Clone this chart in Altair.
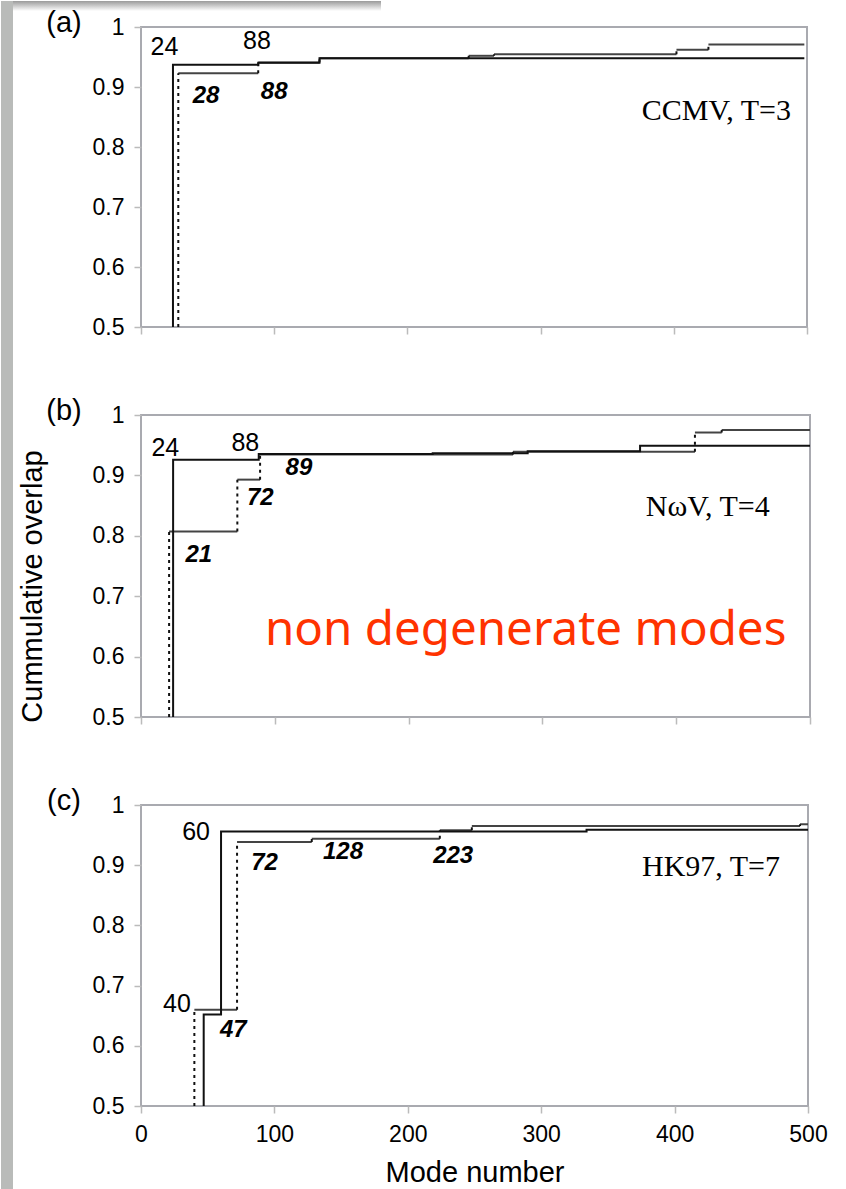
import altair as alt
import pandas as pd

# ---------------- data ----------------
X_TICKS = [0, 100, 200, 300, 400, 500]
Y_TICKS = [0.5, 0.6, 0.7, 0.8, 0.9, 1.0]

# panel (a) CCMV
A_SOLID_X = [24, 88, 134, 498]
A_SOLID_Y = [0.937, 0.9406, 0.948, 0.948]
A_DOT_X = [28, 88, 134, 246, 265, 402, 426, 498]
A_DOT_Y = [0.923, 0.941, 0.948, 0.952, 0.9545, 0.962, 0.971, 0.971]
A_LAB_TEXT = ["24", "88"]
A_LAB_X = [17.6, 87]
A_LAB_Y = [0.967, 0.976]
A_BLAB_TEXT = ["28", "88"]
A_BLAB_X = [48.8, 100]
A_BLAB_Y = [0.885, 0.892]
A_NAME = "CCMV, T=3"
A_NAME_X = 432
A_NAME_Y = 0.86

# panel (b) NωV
B_SOLID_X = [24, 88, 218, 289, 373, 500]
B_SOLID_Y = [0.926, 0.9355, 0.9365, 0.940, 0.949, 0.949]
B_DOT_X = [21, 72, 89, 278, 414, 434, 500]
B_DOT_Y = [0.807, 0.893, 0.9345, 0.939, 0.971, 0.975, 0.975]
B_LAB_TEXT = ["24", "88"]
B_LAB_X = [18.2, 78]
B_LAB_Y = [0.946, 0.954]
B_BLAB_TEXT = ["89", "72", "21"]
B_BLAB_X = [118, 89.2, 43.2]
B_BLAB_Y = [0.913, 0.863, 0.768]
B_NAME = "NωV, T=4"
B_NAME_X = 423.6
B_NAME_Y = 0.848
NOTE_TEXT = "non degenerate modes"
NOTE_X = 287.5
NOTE_Y = 0.620

# panel (c) HK97
C_SOLID_X = [47, 60, 334, 500]
C_SOLID_Y = [0.652, 0.956, 0.959, 0.959]
C_DOT_X = [40, 72, 128, 224, 248, 494, 500]
C_DOT_Y = [0.660, 0.9385, 0.944, 0.958, 0.965, 0.968, 0.968]
C_LAB_TEXT = ["60", "40"]
C_LAB_X = [41.3, 27]
C_LAB_Y = [0.955, 0.670]
C_BLAB_TEXT = ["47", "72", "128", "223"]
C_BLAB_X = [69.2, 92.6, 151.4, 234]
C_BLAB_Y = [0.627, 0.904, 0.922, 0.915]
C_NAME = "HK97, T=7"
C_NAME_X = 427.3
C_NAME_Y = 0.897

SANS = "Liberation Sans"
SERIF = "Liberation Serif"


def step_points(xs, ys):
    rows = [{"x": xs[0], "y": 0.5}]
    rows += [{"x": x, "y": y} for x, y in zip(xs, ys)]
    return pd.DataFrame(rows)


def step_segments(xs, ys):
    hor, ver = [], []
    prev = 0.5
    for i, (x, y) in enumerate(zip(xs, ys)):
        ver.append({"x": x, "y": prev, "y2": y})
        if i + 1 < len(xs):
            hor.append({"x": x, "x2": xs[i + 1], "y": y})
        prev = y
    return pd.DataFrame(hor), pd.DataFrame(ver)


XSCALE = alt.Scale(domain=[0, 500], nice=False, zero=False)
YSCALE = alt.Scale(domain=[0.5, 1.0], nice=False, zero=False)
YAXIS_TITLED = alt.Axis(values=Y_TICKS, format=".1~f", labelPadding=10,
                        title="Cummulative overlap", titleAngle=270,
                        titleX=-109, titleY=171, titleAlign="center",
                        titleBaseline="middle")


def panel(letter, sx, sy, dx, dy, lt, lx, ly, bt, bx, by, name, nx, ny,
          width, height, bottom=False, ytitle=False, extra=None):
    if bottom:
        xaxis = alt.Axis(values=X_TICKS, labels=True, title="Mode number",
                         labelFlush=False, labelPadding=10, titlePadding=12)
    else:
        xaxis = alt.Axis(values=X_TICKS, labels=False, title=None)
    if ytitle:
        yaxis = YAXIS_TITLED
    else:
        yaxis = alt.Axis(values=Y_TICKS, format=".1~f", labelPadding=10, title=None)

    X = alt.X("x:Q", scale=XSCALE, axis=xaxis)
    Y = alt.Y("y:Q", scale=YSCALE, axis=yaxis)

    hor, ver = step_segments(dx, dy)
    solid = alt.Chart(step_points(sx, sy)).mark_line(
        interpolate="step-after", color="#111111", strokeWidth=2
    ).encode(x=X, y=Y)
    dot_h = alt.Chart(hor).mark_rule(color="#444444", strokeWidth=2).encode(
        x=X, x2="x2:Q", y=Y)
    dot_v = alt.Chart(ver).mark_rule(color="#111111", strokeWidth=2,
                                     strokeDash=[3, 4]).encode(
        x=X, y=Y, y2="y2:Q")

    lab = alt.Chart(pd.DataFrame({"x": lx, "y": ly, "t": lt})).mark_text(
        font=SANS, fontSize=25, color="#000", align="center", baseline="middle"
    ).encode(x=X, y=Y, text="t:N")
    blab = alt.Chart(pd.DataFrame({"x": bx, "y": by, "t": bt})).mark_text(
        font=SANS, fontSize=24, fontWeight="bold", fontStyle="italic",
        color="#000", align="center", baseline="middle"
    ).encode(x=X, y=Y, text="t:N")
    nm = alt.Chart(pd.DataFrame({"x": [nx], "y": [ny], "t": [name]})).mark_text(
        font=SERIF, fontSize=30, color="#000", align="center", baseline="middle"
    ).encode(x=X, y=Y, text="t:N")
    let = alt.Chart(pd.DataFrame({"t": [letter]})).mark_text(
        font=SANS, fontSize=29, color="#000", align="center", baseline="middle"
    ).encode(x=alt.value(-77), y=alt.value(-4), text="t:N")

    layers = []
    if extra is not None:
        layers += extra
    layers += [dot_h, dot_v, solid, lab, blab, nm, let]
    return alt.layer(*layers).properties(width=width, height=height)


# decorative slide edge (grey bar on the left) and top shadow
edge = alt.Chart(pd.DataFrame({"t": [0]})).mark_rect(color="#b9bbb9").encode(
    x=alt.value(-140), x2=alt.value(-128), y=alt.value(-414), y2=alt.value(775))
shadow = alt.Chart(pd.DataFrame({"t": [0]})).mark_rect(
    fill=alt.LinearGradient(gradient="linear", x1=0, y1=0, x2=0, y2=1,
                            stops=[alt.GradientStop(color="#9a9a9a", offset=0),
                                   alt.GradientStop(color="#ffffff", offset=1)])
).encode(x=alt.value(-128), x2=alt.value(240), y=alt.value(-26), y2=alt.value(-16))

note = alt.Chart(pd.DataFrame({"x": [NOTE_X], "y": [NOTE_Y], "t": [NOTE_TEXT]})).mark_text(
    font="Noto Sans", fontSize=47.5, color="#ff3300", align="center", baseline="alphabetic"
).encode(
    x=alt.X("x:Q", scale=XSCALE, axis=alt.Axis(values=X_TICKS, labels=False, title=None)),
    y=alt.Y("y:Q", scale=YSCALE, axis=YAXIS_TITLED),
    text="t:N")

pa = panel("(a)", A_SOLID_X, A_SOLID_Y, A_DOT_X, A_DOT_Y,
           A_LAB_TEXT, A_LAB_X, A_LAB_Y, A_BLAB_TEXT, A_BLAB_X, A_BLAB_Y,
           A_NAME, A_NAME_X, A_NAME_Y, 666, 300, extra=[shadow])
pb = panel("(b)", B_SOLID_X, B_SOLID_Y, B_DOT_X, B_DOT_Y,
           B_LAB_TEXT, B_LAB_X, B_LAB_Y, B_BLAB_TEXT, B_BLAB_X, B_BLAB_Y,
           B_NAME, B_NAME_X, B_NAME_Y, 669, 302, ytitle=True, extra=[edge, note])
pc = panel("(c)", C_SOLID_X, C_SOLID_Y, C_DOT_X, C_DOT_Y,
           C_LAB_TEXT, C_LAB_X, C_LAB_Y, C_BLAB_TEXT, C_BLAB_X, C_BLAB_Y,
           C_NAME, C_NAME_X, C_NAME_Y, 667, 301, bottom=True)

chart = alt.vconcat(pa, pb, pc, spacing=88, bounds="flush").properties(
    padding=0, background="white"
).configure_view(
    stroke="#a9aab0", strokeWidth=2
).configure_axis(
    grid=False, domain=False, tickColor="#bbbbbb", tickSize=7, tickWidth=1.5,
    labelFont=SANS, labelFontSize=23, labelColor="#000000",
    titleFont=SANS, titleFontSize=29, titleFontWeight="normal", titleColor="#000000"
)

chart.save("out.html", embed_options={"renderer": "svg", "actions": False})
